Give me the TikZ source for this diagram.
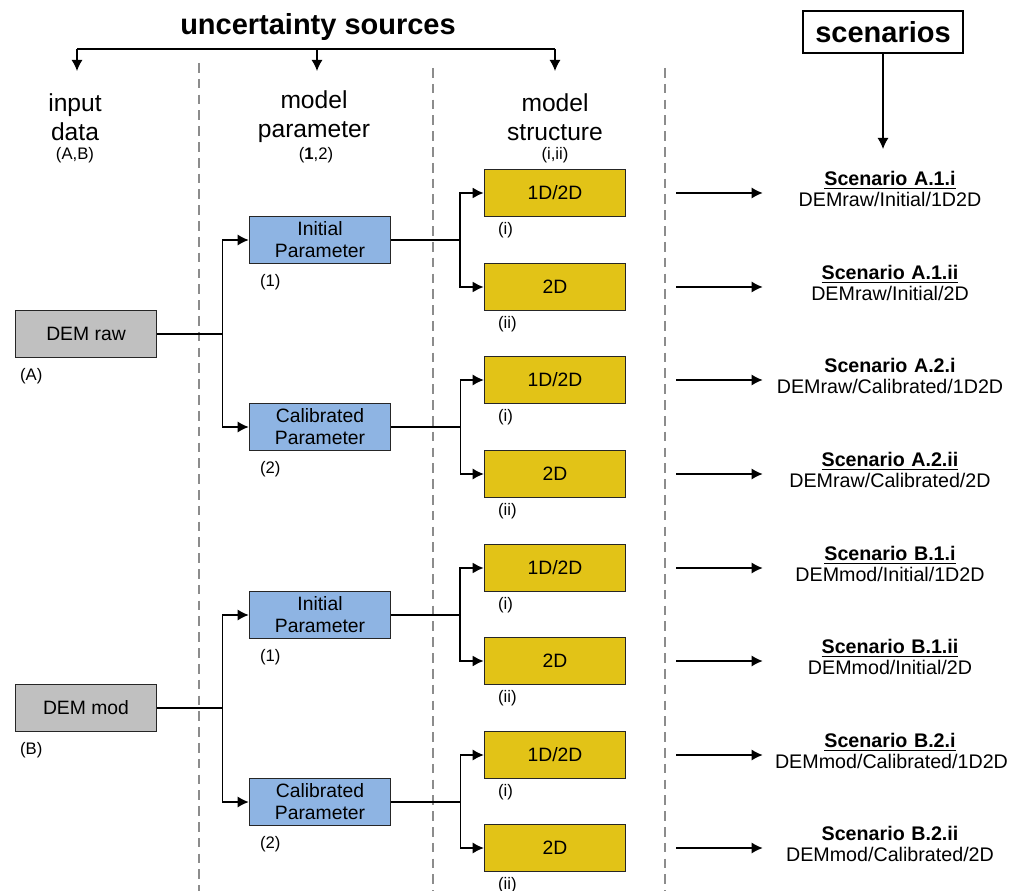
\documentclass[tikz,border=0pt]{standalone}
\usepackage{fontspec}
\setmainfont{Liberation Sans}
\usetikzlibrary{positioning,arrows.meta}

\definecolor{demgray}{RGB}{192,192,192}
\definecolor{parblue}{RGB}{142,180,227}
\definecolor{stryellow}{RGB}{226,195,23}
\definecolor{sepgray}{RGB}{140,140,140}

\begin{document}
\begin{tikzpicture}[x=0.02cm,y=-0.02cm,
	box/.style={draw=black!85,line width=0.9pt,minimum width=2.82cm,minimum height=0.94cm,
		inner sep=1pt,align=center,font=\fontsize{11}{12.5}\selectfont},
	dembox/.style={box,fill=demgray},
	parbox/.style={box,fill=parblue},
	strbox/.style={box,fill=stryellow},
	head/.style={align=center,font=\fontsize{14}{16.5}\selectfont},
	tag/.style={inner sep=0pt,font=\fontsize{9.5}{10}\selectfont},
	scen/.style={align=center,text width=4.6cm,inner sep=0pt,font=\fontsize{11.2}{12}\selectfont},
	arr/.style={-{Latex[length=2.2mm,width=2.2mm]},line width=0.7pt},
	sep/.style={sepgray,dash pattern=on 5.5pt off 3.5pt,line width=0.6pt}]
	
	\useasboundingbox (0,0) rectangle (1020,891);
	
	% separators
	\draw[sep] (199,63) -- (199,891);
	\draw[sep] (433,68) -- (433,891);
	\draw[sep] (665,68) -- (665,891);
	
	% uncertainty sources
	\node[font=\bfseries\fontsize{16.5}{18}\selectfont] (unc) at (318,27) {uncertainty sources};
	\coordinate (uL) at (77,49);
	\coordinate (uM) at (317,49);
	\coordinate (uR) at (555,49);
	\coordinate (hIn) at (77,71);
	\coordinate (hPar) at (317,71);
	\coordinate (hStr) at (555,71);
	\draw[line width=0.9pt] (uL) -- (uR);
	\draw[arr] (uL) -- (hIn);
	\draw[arr] (uM) -- (hPar);
	\draw[arr] (uR) -- (hStr);
	
	\node[head] (hdIn) at (75,117) {input\\data};
	\node[head] (hdPar) at (314,117) {model\\parameter};
	\node[head] (hdStr) at (555,117) {model\\structure};
	\node[tag] (abIn) at (75,155) {(A,B)};
	\node[tag] (abPar) at (316,155) {(\textbf{1},2)};
	\node[tag] (abStr) at (555,155) {(i,ii)};
	
	% scenarios
	\node[draw,line width=1.2pt,minimum width=3.2cm,minimum height=0.84cm,
		font=\bfseries\fontsize{16.5}{18}\selectfont] (scenHead) at (883,32) {scenarios};
	\coordinate (scenT) at (883,149);
	\draw[arr] (scenHead.south) -- (scenT);
	
	% input data
	\node[dembox] (demA) at (86,334) {DEM raw};
	\node[dembox] (demB) at (86,708) {DEM mod};
	\node[tag,below right=0.2cm and 0.1cm of demA.south west] (tA) {(A)};
	\node[tag,below right=0.2cm and 0.1cm of demB.south west] (tB) {(B)};
	
	% model parameter
	\node[parbox] (parA1) at (320,240) {Initial\\Parameter};
	\node[parbox] (parA2) at (320,427) {Calibrated\\Parameter};
	\node[parbox] (parB1) at (320,615) {Initial\\Parameter};
	\node[parbox] (parB2) at (320,802) {Calibrated\\Parameter};
	\node[tag,below right=0.2cm and 0.22cm of parA1.south west] (tA1) {(1)};
	\node[tag,below right=0.2cm and 0.22cm of parA2.south west] (tA2) {(2)};
	\node[tag,below right=0.2cm and 0.22cm of parB1.south west] (tB1) {(1)};
	\node[tag,below right=0.2cm and 0.22cm of parB2.south west] (tB2) {(2)};
	
	% model structure
	\node[strbox] (strA1i) at (555,193) {1D/2D};
	\node[strbox] (strA1ii) at (555,287) {2D};
	\node[strbox] (strA2i) at (555,380) {1D/2D};
	\node[strbox] (strA2ii) at (555,474) {2D};
	\node[strbox] (strB1i) at (555,568) {1D/2D};
	\node[strbox] (strB1ii) at (555,661) {2D};
	\node[strbox] (strB2i) at (555,755) {1D/2D};
	\node[strbox] (strB2ii) at (555,848) {2D};
	\foreach \r/\l in {A1i/i,A1ii/ii,A2i/i,A2ii/ii,B1i/i,B1ii/ii,B2i/i,B2ii/ii}
		\node[tag,below right=0.1cm and 0.28cm of str\r.south west] (t\r) {(\l)};
	
	% connectors
	\draw[arr,line width=0.8pt] (demA.east) -- ++(65,0) |- (parA1.west);
	\draw[arr,line width=0.8pt] (demA.east) -- ++(65,0) |- (parA2.west);
	\draw[arr,line width=0.8pt] (demB.east) -- ++(65,0) |- (parB1.west);
	\draw[arr,line width=0.8pt] (demB.east) -- ++(65,0) |- (parB2.west);
	\draw[arr,line width=1.1pt] (parA1.east) -- ++(69,0) |- (strA1i.west);
	\draw[arr,line width=1.1pt] (parA1.east) -- ++(69,0) |- (strA1ii.west);
	\draw[arr,line width=0.6pt] (parA2.east) -- ++(69,0) |- (strA2i.west);
	\draw[arr,line width=0.6pt] (parA2.east) -- ++(69,0) |- (strA2ii.west);
	\draw[arr,line width=1.1pt] (parB1.east) -- ++(69,0) |- (strB1i.west);
	\draw[arr,line width=1.1pt] (parB1.east) -- ++(69,0) |- (strB1ii.west);
	\draw[arr,line width=0.6pt] (parB2.east) -- ++(69,0) |- (strB2i.west);
	\draw[arr,line width=0.6pt] (parB2.east) -- ++(69,0) |- (strB2ii.west);
	
	% scenario list
	\node[scen] (scA1i) at (890,189) {\textbf{\underline{Scenario A.1.i}}\\DEMraw/Initial/1D2D};
	\node[scen] (scA1ii) at (890,283) {\textbf{\underline{Scenario A.1.ii}}\\DEMraw/Initial/2D};
	\node[scen] (scA2i) at (890,376) {\textbf{Scenario A.2.i}\\DEMraw/Calibrated/1D2D};
	\node[scen] (scA2ii) at (890,470) {\textbf{\underline{Scenario A.2.ii}}\\DEMraw/Calibrated/2D};
	\node[scen] (scB1i) at (890,564) {\textbf{\underline{Scenario B.1.i}}\\DEMmod/Initial/1D2D};
	\node[scen] (scB1ii) at (890,657) {\textbf{\underline{Scenario B.1.ii}}\\DEMmod/Initial/2D};
	\node[scen] (scB2i) at (890,751) {\textbf{\underline{Scenario B.2.i}}\\DEMmod/Calibrated/1D2D};
	\node[scen] (scB2ii) at (890,844) {\textbf{Scenario B.2.ii}\\DEMmod/Calibrated/2D};
	\foreach \r in {A1i,A1ii,A2i,A2ii,B1i,B1ii,B2i,B2ii}
		\draw[arr,shorten >=0.24cm] ([xshift=1cm]str\r.east) -- (sc\r.west |- str\r.east);
	
\end{tikzpicture}
\end{document}
